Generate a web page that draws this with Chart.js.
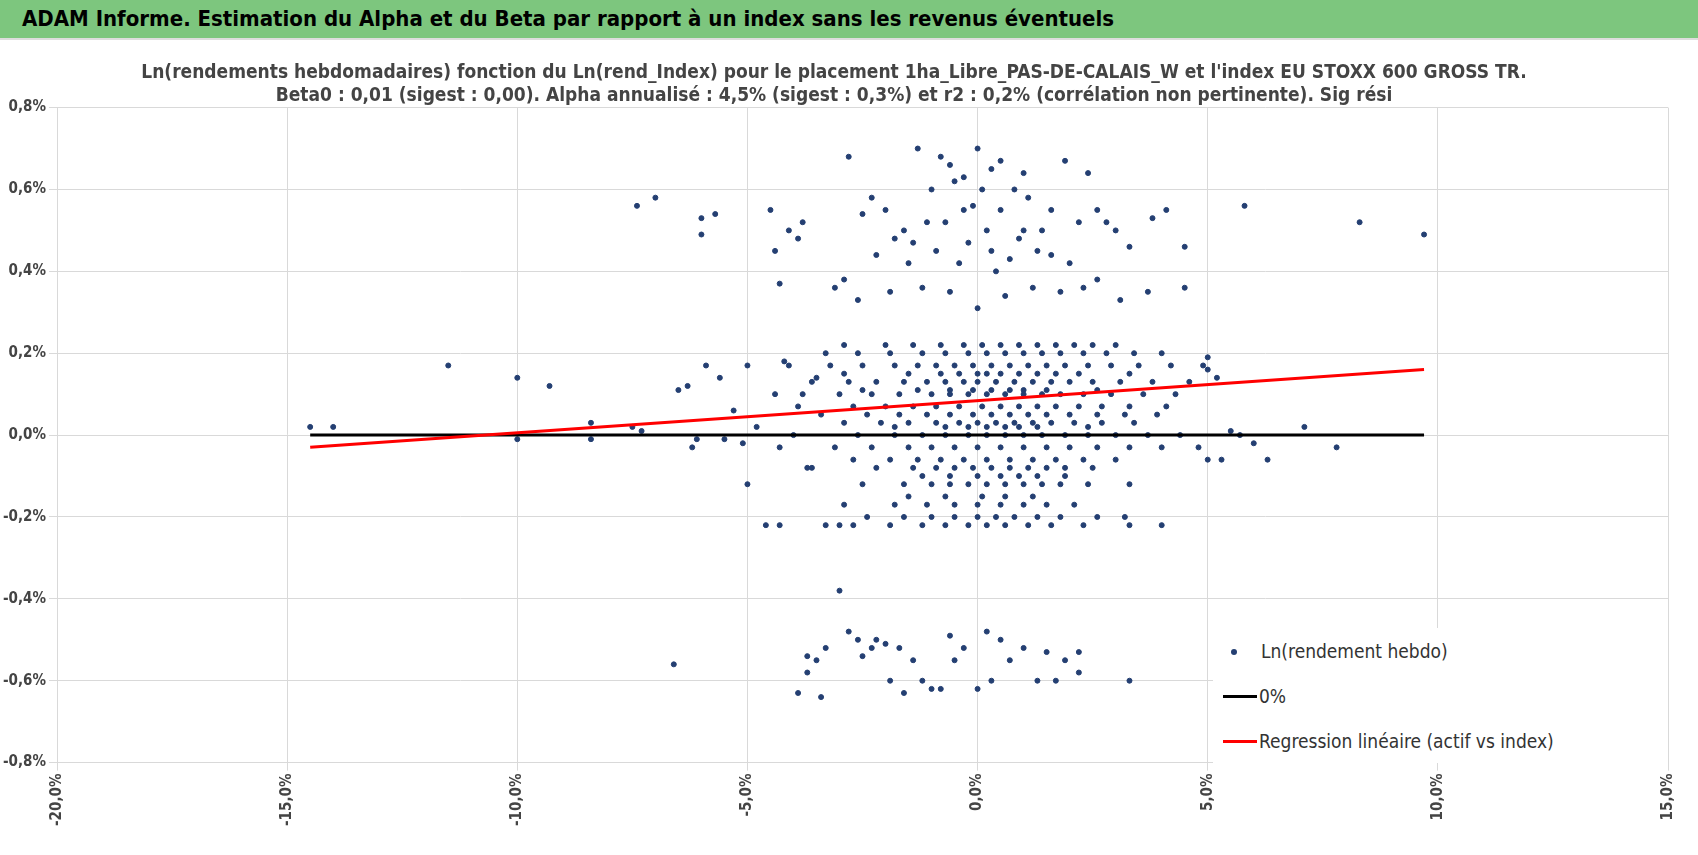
<!DOCTYPE html>
<html><head><meta charset="utf-8">
<script src="https://cdn.jsdelivr.net/npm/chart.js@4"></script>
<style>
body{margin:0;background:#fff;font-family:"DejaVu Sans Condensed","Liberation Sans",sans-serif;}
#head{height:38px;background:#7dc67e;font-weight:bold;font-size:22px;line-height:38px;padding-left:22px;border-bottom:2px solid #ddd;}
#wrap{position:absolute;left:0;top:40px;width:1698px;height:815px;}
#legend{position:absolute;left:1213px;top:588px;width:455px;height:135px;background:#fff;font-size:19px;color:#333;}
#legend div{position:absolute;left:10px;}
</style></head><body>
<div id="head">ADAM Informe. Estimation du Alpha et du Beta par rapport à un index sans les revenus éventuels</div>
<div id="wrap"><canvas id="c"></canvas>
<div id="legend">
<div style="top:12px"><span style="display:inline-block;width:6px;height:6px;border-radius:3px;background:#243f72;margin:0 24px 3px 8px"></span>Ln(rendement hebdo)</div>
<div style="top:57px"><span style="display:inline-block;width:34px;height:3px;background:#000;margin:0 2px 5px 0"></span>0%</div>
<div style="top:102px"><span style="display:inline-block;width:34px;height:3px;background:#f00;margin:0 2px 5px 0"></span>Regression linéaire (actif vs index)</div>
</div></div>
<script>
// scattered points (x: ln index %, y: ln asset %)
const outliers = [
[-14.5,0.02],[-14,0.02],[-11.5,0.17],[-10,0.14],[-10,-0.01],[-9.3,0.12],[-8.4,0.03],[-8.4,-0.01],[-7.5,0.02],[-7.3,0.01],
[-7.4,0.56],[-7,0.58],[-6.6,-0.56],[-6.5,0.11],[-6.3,0.12],[-6.1,-0.01],[-6.2,-0.03],[-6,0.53],[-6,0.49],[-5.9,0.17],
[-5.7,0.54],[-5.6,0.14],[-5.5,-0.01],[-5.3,0.06],[-5.1,-0.02],[-5,0.17],[-5,-0.12],[-4.8,0.02],[-4.6,-0.22],[-4.5,0.55],
[-4.4,0.45],[-4.3,0.37],[-4.2,0.18],[-4.1,0.5],[-3.9,0.48],[-3.8,0.52],[-3.9,-0.63],[-3.7,-0.58],[-3.7,-0.54],[-3.5,-0.55],
[-3.4,-0.64],[-3.3,-0.52],[-3.8,0.1],[-3.6,-0.08],[-3.5,0.14],[-3.3,-0.22],[-3.0,-0.22],[-3.1,0.36],[-2.9,0.38],[-3.0,-0.38],
[-2.8,0.68],[-2.8,-0.48],[-2.6,-0.5],[-2.5,-0.54],[-2.3,-0.52],[-2.2,-0.5],[-2.0,-0.51],[-1.9,-0.6],[-1.7,-0.52],[-1.6,-0.63],
[-1.4,-0.55],[-1.2,-0.6],[-1,-0.62],[-0.8,-0.62],[-0.6,-0.49],[-0.5,-0.55],[-0.3,-0.52],[0,-0.62],[0.2,-0.48],[0.3,-0.6],
[0.5,-0.5],[0.7,-0.55],[1,-0.52],[1.3,-0.6],[1.5,-0.53],[1.7,-0.6],[1.9,-0.55],[2.2,-0.53],[2.2,-0.58],[3.3,-0.6],
[4.5,0.46],[4.5,0.36],[5,0.19],[5,0.16],[5.2,0.14],[5.0,-0.06],[5.3,-0.06],[5.5,0.01],[5.8,0.56],[6.0,-0.02],
[6.3,-0.06],[7.1,0.02],[7.8,-0.03],[8.3,0.52],[9.7,0.49],[5.7,0.0],
[-2.5,0.54],[-2.2,0.44],[-2,0.55],[-1.8,0.48],[-1.5,0.42],[-1.3,0.7],[-1,0.6],[-0.8,0.68],[-0.5,0.62],[-0.3,0.55],
[0,0.7],[0.3,0.65],[0.5,0.55],[0.8,0.6],[1,0.5],[1.3,0.45],[1.6,0.55],[1.9,0.67],[2.2,0.52],[2.4,0.64],
[2.6,0.38],[2.8,0.52],[3.0,0.5],[3.3,0.46],[3.7,0.35],[3.8,0.53],[4.1,0.55],[-2.6,0.33],[-1.9,0.35],[-1.2,0.36],
[-0.6,0.35],[0,0.31],[0.6,0.34],[1.2,0.36],[1.8,0.35],[2.3,0.36],[-0.9,0.45],[-0.2,0.47],[0.2,0.5],[0.7,0.43],
[1.4,0.5],[-1.6,0.5],[-0.7,0.52],[0.4,0.4],[1.1,0.58],[0.1,0.6],[-0.4,0.42],[2.0,0.42],[3.1,0.33],[-0.6,0.66],[0.5,0.67],
[-1.1,0.52],[-0.1,0.56],[0.9,0.48],[1.6,0.44],[-1.4,0.47],[0.3,0.45],[1.0,0.64],[-0.3,0.63],[2.6,0.55],[-2.3,0.58]
];
// dense core rows: one y level, several x values
const coreLevels = [0.22,0.2,0.17,0.15,0.13,0.11,0.1,0.07,0.05,0.03,0.02,0.0,-0.03,-0.06,-0.08,-0.1,-0.12,-0.15,-0.17,-0.2,-0.22];
const coreX = [
[-2.9,-2,-1.4,-0.8,-0.3,0.1,0.5,0.9,1.3,1.7,2.1,2.5,3.0],
[-3.3,-2.6,-1.9,-1.2,-0.7,-0.2,0.2,0.6,1.0,1.4,1.8,2.3,2.8,3.4,4.0],
[-4.1,-3.2,-2.5,-1.8,-1.3,-0.9,-0.5,-0.1,0.3,0.7,1.1,1.5,1.9,2.4,2.9,3.5,4.2,4.9],
[-2.9,-1.5,-0.8,-0.4,0.0,0.2,0.5,0.9,1.3,1.7,2.2,3.3],
[-3.6,-2.8,-2.2,-1.6,-1.1,-0.7,-0.3,0.0,0.4,0.8,1.2,1.6,2.0,2.5,3.1,3.8,4.6],
[-2.5,-1.3,-0.6,-0.1,0.3,0.7,1.0,1.5,2.6],
[-4.4,-3.0,-2.3,-1.7,-1.0,-0.6,-0.2,0.2,0.6,1.0,1.4,1.8,2.3,2.9,3.6,4.3],
[-3.9,-2.7,-2.0,-1.4,-0.9,-0.4,0.1,0.5,0.9,1.3,1.7,2.2,2.7,3.3,4.1],
[-3.4,-2.4,-1.7,-1.1,-0.6,-0.1,0.3,0.7,1.1,1.5,2.0,2.6,3.2,3.9],
[-2.9,-2.1,-1.5,-0.9,-0.4,0.0,0.4,0.8,1.2,1.6,2.1,2.7,3.4],
[-1.8,-0.7,-0.2,0.2,0.6,0.9,1.3,2.4],
[-4.0,-2.6,-1.8,-1.2,-0.7,-0.2,0.2,0.6,1.0,1.4,1.9,2.4,3.0,3.7,4.4],
[-4.3,-3.1,-2.3,-1.5,-1.0,-0.5,0.0,0.5,1.0,1.5,2.0,2.6,3.3,4.0,4.8],
[-2.7,-1.9,-1.3,-0.8,-0.3,0.2,0.7,1.2,1.7,2.3,3.0],
[-3.7,-2.2,-1.4,-0.9,-0.5,-0.1,0.3,0.7,1.1,1.5,1.9,2.5],
[-1.2,-0.6,0.0,0.5,0.9,1.3,1.9],
[-2.5,-1.6,-1.0,-0.6,-0.2,0.2,0.6,1.0,1.4,1.8,2.4,3.3],
[-1.5,-0.7,0.1,0.6,1.2],
[-2.9,-1.8,-1.1,-0.5,0.0,0.5,1.0,1.5,2.1],
[-2.4,-1.6,-1.0,-0.5,0.0,0.4,0.8,1.3,1.8,2.6,3.2],
[-4.3,-2.7,-1.9,-1.2,-0.7,-0.2,0.2,0.6,1.1,1.6,2.3,3.3,4.0]
];
const zeroLineX = [-14.5, 9.7];
const regX = [-14.5, 9.7];
const regY = [-0.03, 0.16];

const points = outliers.map(p => ({x: p[0], y: p[1]}));
coreLevels.forEach((y, i) => coreX[i].forEach(x => points.push({x: x, y: y})));
const fmt = (v) => v.toFixed(1).replace('.', ',') + '%';
const FONT = '"DejaVu Sans Condensed","Liberation Sans",sans-serif';

new Chart(document.getElementById('c'), {
    type: 'scatter',
    data: {
        datasets: [
            { data: points, backgroundColor: '#243f72', borderColor: '#243f72', pointRadius: 2.5, order: 3 },
            { type: 'line', data: zeroLineX.map(x => ({x: x, y: 0})), borderColor: '#000', borderWidth: 3, pointRadius: 0, order: 2 },
            { type: 'line', data: regX.map((x, i) => ({x: x, y: regY[i]})), borderColor: '#f00', borderWidth: 3, pointRadius: 0, order: 1 }
        ]
    },
    options: {
        responsive: true,
        maintainAspectRatio: false,
        animation: false,
        layout: { padding: { left: 0, right: 30, top: 0, bottom: 26 } },
        plugins: {
            legend: { display: false },
            tooltip: { enabled: false },
            title: {
                display: true,
                text: ["Ln(rendements hebdomadaires) fonction du Ln(rend_Index) pour le placement 1ha_Libre_PAS-DE-CALAIS_W et l'index EU STOXX 600 GROSS TR.",
                       "Beta0 : 0,01 (sigest : 0,00). Alpha annualisé : 4,5% (sigest : 0,3%) et r2 : 0,2% (corrélation non pertinente). Sig rési"],
                color: '#444',
                font: { family: FONT, size: 19, weight: 'bold' },
                padding: { top: 22, bottom: 0 }
            }
        },
        scales: {
            x: {
                min: -20, max: 15,
                ticks: { stepSize: 5, callback: fmt, minRotation: 90, maxRotation: 90, color: '#444',
                         font: { family: FONT, size: 15, weight: 'bold' } },
                grid: { color: '#d9d9d9' }, border: { color: '#d9d9d9' }
            },
            y: {
                min: -0.8, max: 0.8,
                ticks: { stepSize: 0.2, callback: fmt, color: '#444',
                         font: { family: FONT, size: 15, weight: 'bold' } },
                grid: { color: '#d9d9d9' }, border: { color: '#d9d9d9' }
            }
        }
    }
});
</script>
</body></html>
